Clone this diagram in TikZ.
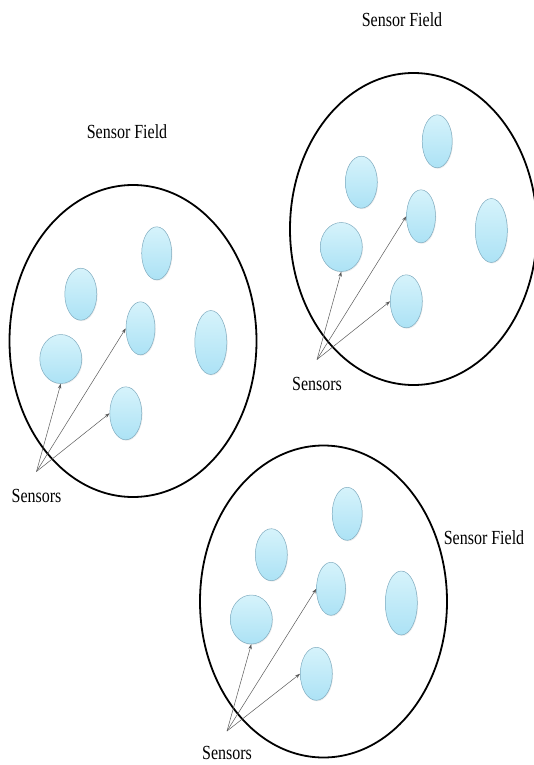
\documentclass[tikz,border=0pt]{standalone}
\usepackage{fontspec}
\setmainfont{Liberation Serif}[FakeStretch=0.8]
\usepackage{xcolor}
\usetikzlibrary{arrows.meta,shapes.geometric,shadows}

\definecolor{sensortop}{RGB}{214,243,251}
\definecolor{sensorbot}{RGB}{172,226,245}
\definecolor{sensorline}{RGB}{128,172,192}

\begin{document}
\begin{tikzpicture}[x=1pt,y=-1pt,
  field/.style={draw,ellipse,line width=1.8pt,minimum width=247pt,minimum height=312pt,inner sep=0pt},
  sensor/.style={ellipse,draw=sensorline,line width=0.5pt,top color=sensortop,bottom color=sensorbot,
                 inner sep=0pt,drop shadow={opacity=0.15,shadow xshift=0.8pt,shadow yshift=-1pt}},
  lbl/.style={font=\fontsize{20}{24}\selectfont,inner sep=0pt},
  arr/.style={-{Stealth[length=5pt,width=3.5pt]},draw=black!65,line width=0.5pt}
]
\useasboundingbox (0,0) rectangle (534,765);

% left field
\begin{scope}[shift={(133,341)}]
\node[field] (fieldL) at (0,0) {};
\node[sensor,minimum width=30pt,minimum height=53pt] (sL1) at (23.7,-87.7) {};
\node[sensor,minimum width=32pt,minimum height=52pt] (sL2) at (-52.2,-46.8) {};
\node[sensor,minimum width=29pt,minimum height=53pt] (sL3) at (7.5,-12.7) {};
\node[sensor,minimum width=32pt,minimum height=64pt] (sL4) at (77.8,1.5) {};
\node[sensor,minimum width=42pt,minimum height=49pt] (sL5) at (-72.2,18) {};
\node[sensor,minimum width=32pt,minimum height=53pt] (sL6) at (-7.2,72.3) {};
\node[lbl] (sensL) at (-96.5,154.5) {Sensors};
\coordinate (hubL) at (-96.5,130.5);
\draw[arr] (hubL)--(sL5.south);
\draw[arr] (hubL)--(sL3.west);
\draw[arr] (hubL)--(sL6.west);
\end{scope}

% right field
\begin{scope}[shift={(413.5,229)}]
\node[field] (fieldR) at (0,0) {};
\node[sensor,minimum width=30pt,minimum height=53pt] (sR1) at (23.7,-87.7) {};
\node[sensor,minimum width=32pt,minimum height=52pt] (sR2) at (-52.2,-46.8) {};
\node[sensor,minimum width=29pt,minimum height=53pt] (sR3) at (7.5,-12.7) {};
\node[sensor,minimum width=32pt,minimum height=64pt] (sR4) at (77.8,1.5) {};
\node[sensor,minimum width=42pt,minimum height=49pt] (sR5) at (-72.2,18) {};
\node[sensor,minimum width=32pt,minimum height=53pt] (sR6) at (-7.2,72.3) {};
\node[lbl] (sensR) at (-96.5,154.5) {Sensors};
\coordinate (hubR) at (-96.5,130.5);
\draw[arr] (hubR)--(sR5.south);
\draw[arr] (hubR)--(sR3.west);
\draw[arr] (hubR)--(sR6.west);
\end{scope}

% bottom field
\begin{scope}[shift={(323.5,601.5)}]
\node[field] (fieldB) at (0,0) {};
\node[sensor,minimum width=30pt,minimum height=53pt] (sB1) at (23.7,-87.7) {};
\node[sensor,minimum width=32pt,minimum height=52pt] (sB2) at (-52.2,-46.8) {};
\node[sensor,minimum width=29pt,minimum height=53pt] (sB3) at (7.5,-12.7) {};
\node[sensor,minimum width=32pt,minimum height=64pt] (sB4) at (77.8,1.5) {};
\node[sensor,minimum width=42pt,minimum height=49pt] (sB5) at (-72.2,18) {};
\node[sensor,minimum width=32pt,minimum height=53pt] (sB6) at (-7.2,72.3) {};
\node[lbl] (sensB) at (-96.5,151.5) {Sensors};
\coordinate (hubB) at (-96.5,129.5);
\draw[arr] (hubB)--(sB5.south);
\draw[arr] (hubB)--(sB3.west);
\draw[arr] (hubB)--(sB6.west);
\end{scope}

\node[lbl] (titleL) at (127,132) {Sensor Field};
\node[lbl] (titleR) at (402,20) {Sensor Field};
\node[lbl] (titleB) at (484,538) {Sensor Field};
\end{tikzpicture}
\end{document}
